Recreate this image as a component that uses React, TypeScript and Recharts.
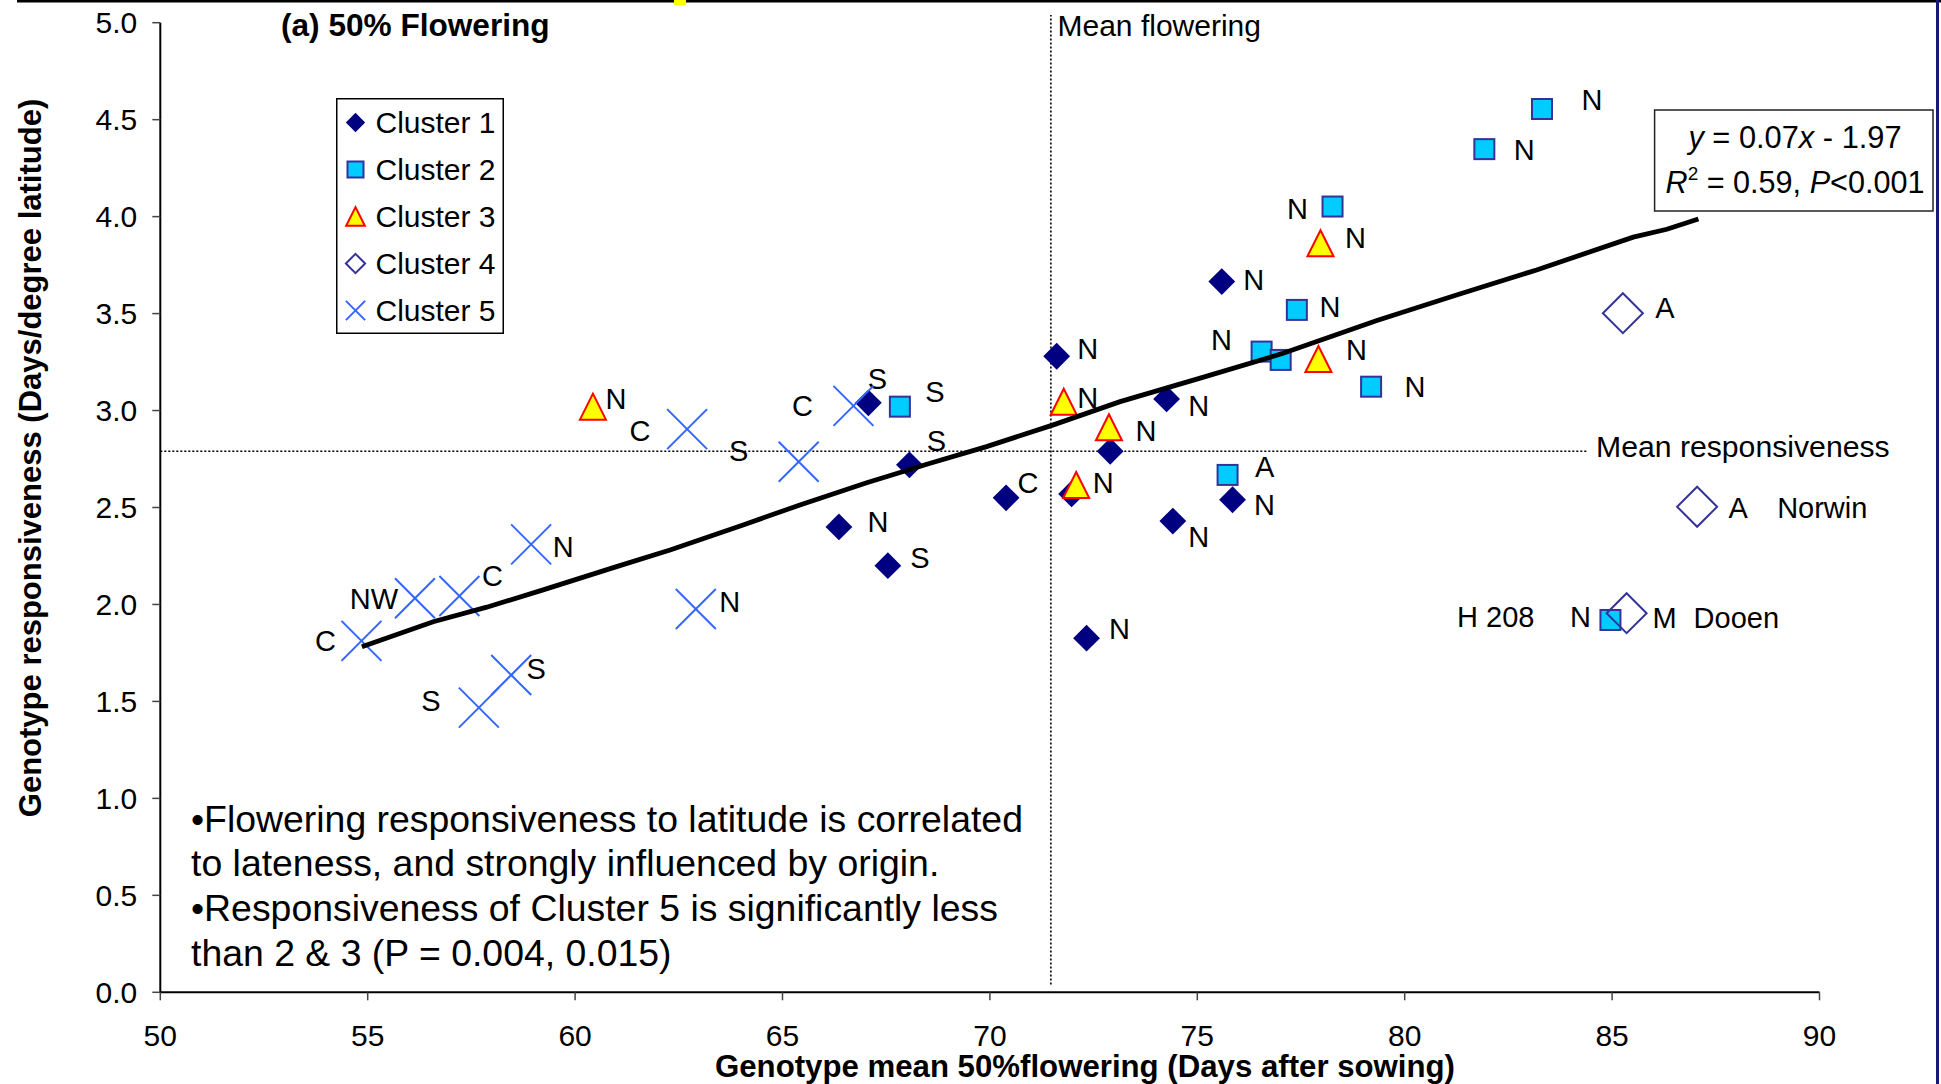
import React from 'react';
import { ScatterChart, Scatter, XAxis, YAxis, ReferenceLine, Legend } from 'recharts';

const FONT = '"Liberation Sans", Arial, Helvetica, sans-serif';

// ---------- tick labels ----------
const xTicks = [50, 55, 60, 65, 70, 75, 80, 85, 90];
const yTicks = [0, 0.5, 1, 1.5, 2, 2.5, 3, 3.5, 4, 4.5, 5];

// ---------- series values ----------
const cluster1 = [
  { x: 67.07, y: 3.04, label: 'S' },
  { x: 68.06, y: 2.72, label: 'S' },
  { x: 66.36, y: 2.40, label: 'N' },
  { x: 67.54, y: 2.20, label: 'S' },
  { x: 70.39, y: 2.55, label: 'C' },
  { x: 71.97, y: 2.57, label: '' },
  { x: 71.61, y: 3.28, label: 'N' },
  { x: 72.90, y: 2.79, label: '' },
  { x: 74.26, y: 3.06, label: 'N' },
  { x: 75.59, y: 3.665, label: 'N' },
  { x: 74.41, y: 2.43, label: 'N' },
  { x: 75.85, y: 2.54, label: 'N' },
  { x: 72.33, y: 1.826, label: 'N' },
];
const cluster2 = [
  { x: 67.83, y: 3.02, label: 'S' },
  { x: 75.73, y: 2.668, label: 'A' },
  { x: 76.55, y: 3.304, label: 'N' },
  { x: 77.01, y: 3.261, label: '' },
  { x: 77.40, y: 3.519, label: 'N' },
  { x: 78.26, y: 4.052, label: 'N' },
  { x: 79.19, y: 3.123, label: 'N' },
  { x: 81.92, y: 4.348, label: 'N' },
  { x: 83.31, y: 4.555, label: 'N' },
  { x: 84.96, y: 1.92, label: 'N', name: 'H 208' },
];
const cluster3 = [
  { x: 60.43, y: 3.02, label: 'N' },
  { x: 71.78, y: 3.045, label: 'N' },
  { x: 72.87, y: 2.914, label: 'N' },
  { x: 72.08, y: 2.616, label: 'N' },
  { x: 77.97, y: 3.863, label: 'N' },
  { x: 77.92, y: 3.266, label: 'N' },
];
const cluster4 = [
  { x: 85.26, y: 3.502, label: 'A' },
  { x: 87.05, y: 2.504, label: 'A', name: 'Norwin' },
  { x: 85.35, y: 1.955, label: 'M', name: 'Dooen' },
];
const cluster5 = [
  { x: 54.85, y: 1.812, label: 'C' },
  { x: 56.14, y: 2.032, label: 'NW' },
  { x: 57.21, y: 2.044, label: 'C' },
  { x: 58.94, y: 2.31, label: 'N' },
  { x: 57.68, y: 1.468, label: 'S' },
  { x: 58.46, y: 1.636, label: 'S' },
  { x: 62.91, y: 1.977, label: 'N' },
  { x: 62.70, y: 2.904, label: 'C' },
  { x: 65.39, y: 2.736, label: 'S' },
  { x: 66.71, y: 3.024, label: 'C' },
];

// fitted line (as drawn, vertex by vertex)
const trendX = [54.86, 56.58, 57.87, 59.23, 61.0, 62.29, 64.05, 65.42, 67.03, 68.56, 69.92, 71.53, 73.14, 75.07, 77.07, 79.33, 81.25, 83.18, 85.51, 86.32, 87.08];
const trendY = [1.782, 1.911, 1.986, 2.075, 2.195, 2.281, 2.41, 2.513, 2.628, 2.728, 2.814, 2.926, 3.046, 3.167, 3.295, 3.464, 3.596, 3.725, 3.894, 3.935, 3.988];

const meanFlowering = 71.47;
const meanResponsiveness = 2.79;

const clusterNames = ['Cluster 1', 'Cluster 2', 'Cluster 3', 'Cluster 4', 'Cluster 5'];

// ---------- label placement (layout, px offsets from marker centre) ----------
const place1 = [[9, -24], [27, -24], [39, -5], [32, -8], [22, -15], [0, 0], [31, -8], [0, 0], [32, 7], [32, -2], [26, 15], [32, 5], [33, -10]];
const place2 = [[35, -15], [37, -8], [-40, -12], [0, 0], [33, -3], [-35, 2], [44, 0], [40, 0], [50, -9], [-30, -3]];
const place3 = [[23, -8], [24, -4], [37, 3], [27, -2], [35, -6], [38, -9]];
const place4 = [[42, -6], [41, 1], [38, 4]];
const place5 = [[-36, 0], [-41, 0], [33, -20], [32, 2], [-48, -7], [25, -6], [34, -7], [-47, 1], [-60, -11], [-51, 0]];
// extra names: [dx, dy, anchor]
const namePlace: Record<string, [number, number, 'start' | 'end']> = {
  'H 208': [-76, -3, 'end'],
  Norwin: [80, 1, 'start'],
  Dooen: [67, 4, 'start'],
};

const withPlace = (arr: any[], pl: number[][]) => arr.map((p, i) => ({ ...p, dx: pl[i][0], dy: pl[i][1] }));

const trendData = trendX.map((x, i) => ({ x, y: trendY[i] }));

// ---------- colours ----------
const NAVY = '#000080';
const BORDER = '#333399';
const CYAN = '#00CCFF';
const YELLOW = '#FFFF00';
const RED = '#FF0000';
const XBLUE = '#3366FF';

const LABEL_SIZE = 29;

function Marker({ kind, cx, cy, s }: { kind: number; cx: number; cy: number; s: number }) {
  if (kind === 1) {
    const h = 13.4 * s;
    return <polygon points={`${cx},${cy - h} ${cx + h},${cy} ${cx},${cy + h} ${cx - h},${cy}`} fill={NAVY} />;
  }
  if (kind === 2) {
    const h = 10 * s;
    return <rect x={cx - h} y={cy - h} width={2 * h} height={2 * h} fill={CYAN} stroke={BORDER} strokeWidth={2} />;
  }
  if (kind === 3) {
    const h = 13 * s;
    return <polygon points={`${cx},${cy - h} ${cx + h},${cy + h} ${cx - h},${cy + h}`} fill={YELLOW} stroke={RED} strokeWidth={2} strokeLinejoin="miter" />;
  }
  if (kind === 4) {
    const h = 20 * s;
    return <polygon points={`${cx},${cy - h} ${cx + h},${cy} ${cx},${cy + h} ${cx - h},${cy}`} fill="none" stroke={BORDER} strokeWidth={2} />;
  }
  const h = 20 * s;
  return (
    <g stroke={XBLUE} strokeWidth={2}>
      <line x1={cx - h} y1={cy - h} x2={cx + h} y2={cy + h} />
      <line x1={cx - h} y1={cy + h} x2={cx + h} y2={cy - h} />
    </g>
  );
}

const makeShape = (kind: number) => (props: any) => {
  const { cx, cy, payload } = props;
  if (cx == null || cy == null) return <g />;
  const p = payload || {};
  const np = p.name ? namePlace[p.name] : null;
  return (
    <g>
      <Marker kind={kind} cx={cx} cy={cy} s={1} />
      {p.label ? (
        <text x={cx + p.dx} y={cy + p.dy + LABEL_SIZE * 0.36} textAnchor="middle" fontSize={LABEL_SIZE} fontFamily={FONT} fill="#000">
          {p.label}
        </text>
      ) : null}
      {np ? (
        <text x={cx + np[0]} y={cy + np[1] + LABEL_SIZE * 0.36} textAnchor={np[2]} fontSize={LABEL_SIZE} fontFamily={FONT} fill="#000">
          {p.name}
        </text>
      ) : null}
    </g>
  );
};

const noShape = () => <g />;

function LegendBox() {
  const rows = clusterNames.map((n, i) => (
    <g key={n}>
      <Marker kind={i + 1} cx={19.5} cy={24.5 + i * 47} s={i === 1 ? 0.8 : i === 2 ? 0.72 : i === 0 ? 0.72 : 0.48} />
      <text x={39.5} y={24.5 + i * 47 + 10.8} fontSize={30} fontFamily={FONT} fill="#000">
        {n}
      </text>
    </g>
  ));
  return (
    <svg width={168} height={236} style={{ display: 'block', overflow: 'visible' }}>
      <rect x={0.75} y={0.75} width={166.5} height={234.5} fill="#fff" stroke="#000" strokeWidth={1.5} />
      {rows}
    </svg>
  );
}

const W = 1941;
const H = 1084;

export default function App() {
  const tickStyle = { fontSize: 30, fontFamily: FONT, fill: '#000' };
  return (
    <div style={{ position: 'absolute', left: 0, top: 0, width: W, height: H, background: '#fff', overflow: 'hidden' }}>
      <ScatterChart width={W} height={H} margin={{ top: 22.7, right: 121.5, bottom: 31.7, left: 60.3 }}>
        <XAxis
          type="number"
          dataKey="x"
          domain={[50, 90]}
          ticks={xTicks}
          height={60}
          tick={tickStyle}
          tickSize={8}
          tickMargin={24}
          axisLine={{ stroke: '#000', strokeWidth: 2 }}
          tickLine={{ stroke: '#444', strokeWidth: 1.5 }}
        />
        <YAxis
          type="number"
          dataKey="y"
          domain={[0, 5]}
          ticks={yTicks}
          width={100}
          tick={tickStyle}
          tickFormatter={(v: number) => v.toFixed(1)}
          tickSize={8}
          tickMargin={15}
          axisLine={{ stroke: '#000', strokeWidth: 2 }}
          tickLine={{ stroke: '#444', strokeWidth: 1.5 }}
        />
        <ReferenceLine
          segment={[{ x: 50, y: meanResponsiveness }, { x: 84.4, y: meanResponsiveness }]}
          stroke="#000"
          strokeWidth={1.6}
          strokeDasharray="2 2"
          ifOverflow="visible"
        />
        <ReferenceLine
          segment={[{ x: meanFlowering, y: 0.04 }, { x: meanFlowering, y: 5.04 }]}
          stroke="#000"
          strokeWidth={1.6}
          strokeDasharray="2 2"
          ifOverflow="visible"
        />
        <Legend
          layout="horizontal"
          verticalAlign="middle"
          align="center"
          wrapperStyle={{ position: 'absolute', left: 335.5, top: 97.5, width: 168, height: 236 }}
          content={() => <LegendBox />}
        />
        <Scatter name="Cluster 1" data={withPlace(cluster1, place1)} shape={makeShape(1)} isAnimationActive={false} />
        <Scatter name="Cluster 2" data={withPlace(cluster2, place2)} shape={makeShape(2)} isAnimationActive={false} />
        <Scatter name="Cluster 3" data={withPlace(cluster3, place3)} shape={makeShape(3)} isAnimationActive={false} />
        <Scatter name="Cluster 4" data={withPlace(cluster4, place4)} shape={makeShape(4)} isAnimationActive={false} />
        <Scatter name="Cluster 5" data={withPlace(cluster5, place5)} shape={makeShape(5)} isAnimationActive={false} />
        <Scatter
          name="Fit"
          data={trendData}
          line={{ stroke: '#000', strokeWidth: 4.8 }}
          lineJointType="linear"
          shape={noShape}
          legendType="none"
          isAnimationActive={false}
        />
      </ScatterChart>
      <svg width={W} height={H} style={{ position: 'absolute', left: 0, top: 0, pointerEvents: 'none' }} fontFamily={FONT}>
        <line x1={17} y1={1} x2={W} y2={1} stroke="#000" strokeWidth={3} />
        <rect x={674} y={0} width={12} height={5} fill={YELLOW} />
        <line x1={1937.5} y1={0} x2={1937.5} y2={H} stroke="#1a1a70" strokeWidth={3} />
        <text x={281} y={36} fontSize={31.6} fontWeight="bold" fill="#000">(a) 50% Flowering</text>
        <text x={1057.5} y={36} fontSize={30} fill="#000">Mean flowering</text>
        <text x={1596} y={457} fontSize={30.2} fill="#000">Mean responsiveness</text>
        <rect x={1654.6} y={110} width={278.4} height={101} fill="#fff" stroke="#222" strokeWidth={1.5} />
        <text x={1795} y={148} fontSize={30.8} textAnchor="middle" fill="#000">
          <tspan fontStyle="italic">y</tspan> = 0.07<tspan fontStyle="italic">x</tspan> - 1.97
        </text>
        <text x={1795} y={193} fontSize={30.6} textAnchor="middle" fill="#000">
          <tspan fontStyle="italic">R</tspan>
          <tspan fontSize={19} dy={-13}>2</tspan>
          <tspan dy={13}> = 0.59, </tspan>
          <tspan fontStyle="italic">P</tspan>&lt;0.001
        </text>
        <g fontSize={37.4} fill="#000">
          <text x={191} y={832}>•Flowering responsiveness to latitude is correlated</text>
          <text x={191} y={876}>to lateness, and strongly influenced by origin.</text>
          <text x={191} y={921}>•Responsiveness of Cluster 5 is significantly less</text>
          <text x={191} y={966}>than 2 &amp; 3 (P = 0.004, 0.015)</text>
        </g>
        <text x={1085} y={1077} fontSize={31.2} fontWeight="bold" textAnchor="middle" fill="#000">
          Genotype mean 50%flowering (Days after sowing)
        </text>
        <text transform="translate(41,458) rotate(-90)" fontSize={31} fontWeight="bold" textAnchor="middle" fill="#000">
          Genotype responsiveness (Days/degree latitude)
        </text>
      </svg>
    </div>
  );
}
